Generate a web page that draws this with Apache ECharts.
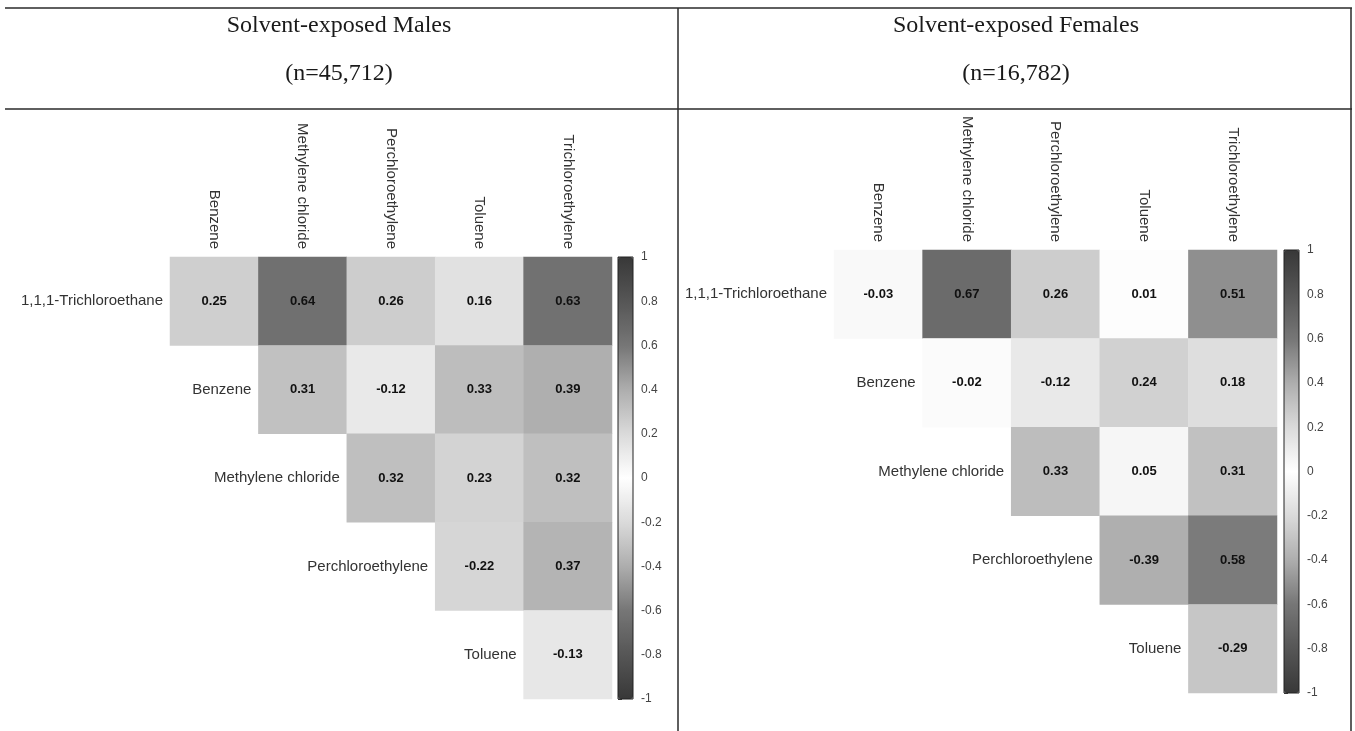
<!DOCTYPE html>
<html>
<head>
<meta charset="utf-8">
<title>Solvent correlation heatmaps</title>
<script src="https://cdn.jsdelivr.net/npm/echarts@6/dist/echarts.min.js"></script>
<style>
  html, body { margin: 0; padding: 0; background: #ffffff; }
  #chart { width: 1355px; height: 731px; }
</style>
</head>
<body>
<div id="chart"></div>
<script>
// Solvent names along the top (columns) and down the diagonal (rows)
const columns = ['Benzene', 'Methylene chloride', 'Perchloroethylene', 'Toluene', 'Trichloroethylene'];
const rowNames = ['1,1,1-Trichloroethane', 'Benzene', 'Methylene chloride', 'Perchloroethylene', 'Toluene'];

// Upper-triangle correlation coefficients, one array per row (null = not drawn)
const malesTCA      = [0.25, 0.64, 0.26, 0.16, 0.63];
const malesBenzene  = [null, 0.31, -0.12, 0.33, 0.39];
const malesMeCl     = [null, null, 0.32, 0.23, 0.32];
const malesPerc     = [null, null, null, -0.22, 0.37];
const malesToluene  = [null, null, null, null, -0.13];

const femalesTCA     = [-0.03, 0.67, 0.26, 0.01, 0.51];
const femalesBenzene = [null, -0.02, -0.12, 0.24, 0.18];
const femalesMeCl    = [null, null, 0.33, 0.05, 0.31];
const femalesPerc    = [null, null, null, -0.39, 0.58];
const femalesToluene = [null, null, null, null, -0.29];

const panelTitles = ['Solvent-exposed Males', 'Solvent-exposed Females'];
const panelCounts = ['(n=45,712)', '(n=16,782)'];

const malesRows = [malesTCA, malesBenzene, malesMeCl, malesPerc, malesToluene];
const femalesRows = [femalesTCA, femalesBenzene, femalesMeCl, femalesPerc, femalesToluene];

function toCells(rows) {
  const out = [];
  rows.forEach((row, r) => row.forEach((v, c) => { if (v !== null) out.push([c, r, v]); }));
  return out;
}

const SANS = '"Liberation Sans", Arial, sans-serif';
const SERIF = '"Liberation Serif", "Times New Roman", serif';
const TEXT = '#333333';

// symmetric grey ramp: dark at -1 and +1, white at 0
const greyRamp = ['#383838', '#565656', '#767676', '#adadad', '#dadada', '#ffffff',
                  '#dadada', '#adadad', '#767676', '#565656', '#383838'];

// panel geometry: heatmap grid and colour bar
const panels = [
  { grid: { left: 170, top: 257, width: 442, height: 442 }, bar: { left: 618, top: 257, width: 15, height: 442 }, rows: malesRows },
  { grid: { left: 834, top: 250, width: 443, height: 443 }, bar: { left: 1284, top: 250, width: 15, height: 443 }, rows: femalesRows }
];

const grids = [], xAxes = [], yAxes = [], series = [], visualMaps = [];

panels.forEach((p, i) => {
  grids.push(Object.assign({ containLabel: false }, p.grid));
  xAxes.push({
    gridIndex: i, type: 'category', data: columns, position: 'top',
    axisLine: { show: false }, axisTick: { show: false }, splitLine: { show: false },
    axisLabel: { rotate: 90, margin: 8, fontSize: 15, fontFamily: SANS, color: TEXT, interval: 0 }
  });
  yAxes.push({ gridIndex: i, type: 'category', data: rowNames, inverse: true, show: false });
});

// colour-bar grids: outlined frame drawn above the gradient, tick axis on the right
panels.forEach((p, i) => {
  grids.push(Object.assign({ containLabel: false, show: true, z: 6, borderColor: '#222',
                             borderWidth: 1, backgroundColor: 'transparent' }, p.bar));
  xAxes.push({ gridIndex: 2 + i, type: 'value', show: false, min: 0, max: 1 });
  yAxes.push({
    gridIndex: 2 + i, type: 'value', min: -1, max: 1, interval: 0.2, position: 'right',
    axisLine: { show: false }, splitLine: { show: false },
    axisTick: { show: true, length: 4, lineStyle: { color: '#444', width: 1 } },
    axisLabel: { margin: 8, fontSize: 12, fontFamily: SANS, color: '#444',
                 formatter: v => String(Math.round(v * 10) / 10) }
  });
});

panels.forEach((p, i) => {
  series.push({
    type: 'heatmap', xAxisIndex: i, yAxisIndex: i,
    data: toCells(p.rows),
    itemStyle: { borderWidth: 0 },
    label: { show: true, formatter: d => d.value[2].toFixed(2),
             fontSize: 13, fontWeight: 'bold', fontFamily: SANS, color: '#111' },
    emphasis: { disabled: true }
  });
  // row names sit just left of the first cell of each row (diagonal)
  series.push({
    type: 'custom', xAxisIndex: i, yAxisIndex: i, silent: true,
    data: rowNames.map((n, r) => [r, r]),
    renderItem: (params, api) => {
      const c = api.coord([api.value(0), api.value(1)]);
      const s = api.size([1, 1]);
      return {
        type: 'text', x: c[0] - s[0] / 2 - 7, y: c[1],
        style: { text: rowNames[params.dataIndex], align: 'right', verticalAlign: 'middle',
                 font: '15px ' + SANS, fill: TEXT }
      };
    }
  });
  visualMaps.push({
    type: 'continuous', seriesIndex: 2 * i, min: -1, max: 1,
    left: p.bar.left, top: p.bar.top, itemWidth: p.bar.width, itemHeight: p.bar.height,
    padding: 0, calculable: false, text: null, hoverLink: false, realtime: false,
    inRange: { color: greyRamp }
  });
});

// table frame and panel headings
const LINE = { stroke: '#2a2a2a', lineWidth: 1.5 };
const graphics = [
  { type: 'line', shape: { x1: 5, y1: 8, x2: 1352, y2: 8 }, style: LINE },
  { type: 'line', shape: { x1: 5, y1: 109, x2: 1352, y2: 109 }, style: LINE },
  { type: 'line', shape: { x1: 678, y1: 8, x2: 678, y2: 731 }, style: LINE },
  { type: 'line', shape: { x1: 1351, y1: 8, x2: 1351, y2: 731 }, style: LINE }
];
const centers = [339, 1016];
centers.forEach((cx, i) => {
  graphics.push({ type: 'text', x: cx, y: 26,
    style: { text: panelTitles[i], align: 'center', verticalAlign: 'middle', font: '24px ' + SERIF, fill: '#1a1a1a' } });
  graphics.push({ type: 'text', x: cx, y: 74,
    style: { text: panelCounts[i], align: 'center', verticalAlign: 'middle', font: '24px ' + SERIF, fill: '#1a1a1a' } });
});

const chart = echarts.init(document.getElementById('chart'), null, { renderer: 'canvas' });
chart.setOption({
  backgroundColor: '#ffffff',
  animation: false,
  grid: grids,
  xAxis: xAxes,
  yAxis: yAxes,
  visualMap: visualMaps,
  series: series,
  graphic: graphics
});
</script>
</body>
</html>
